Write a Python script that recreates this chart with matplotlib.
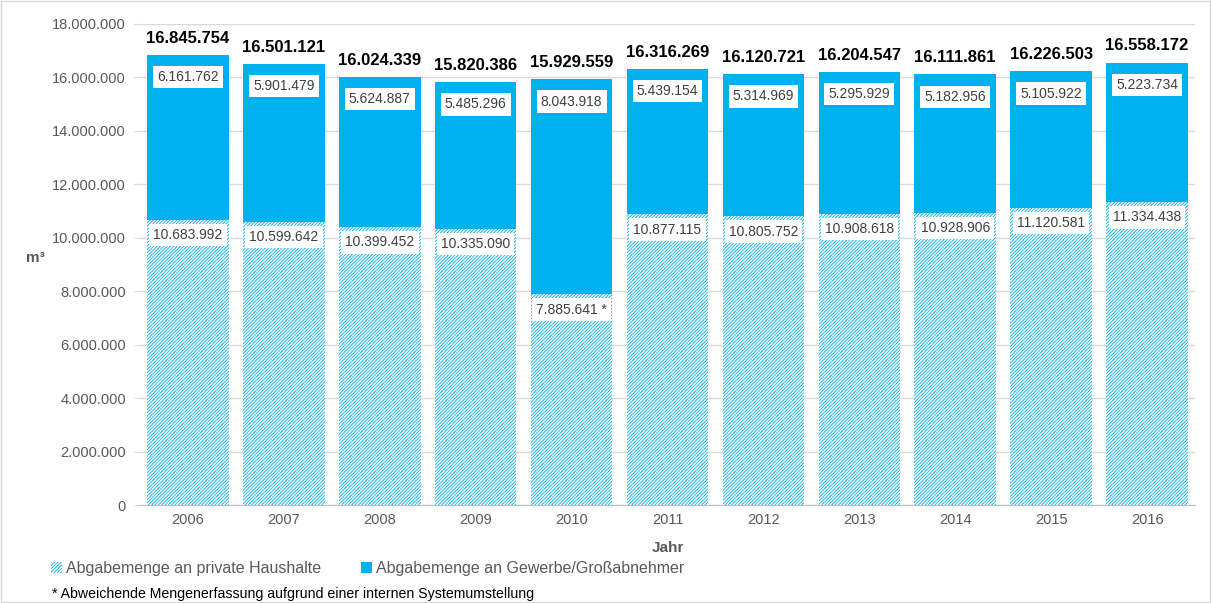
"""
plot.py
Abgabemengen Wasser 2006-2016, gestapelte Säulen
"""

import matplotlib
matplotlib.use('Agg')
import matplotlib.pyplot as plt
from matplotlib.patches import Rectangle

# Data
years = ['2006', '2007', '2008', '2009', '2010', '2011', '2012', '2013', '2014', '2015', '2016']
haushalte = [10683992, 10599642, 10399452, 10335090, 7885641, 10877115,
             10805752, 10908618, 10928906, 11120581, 11334438]
gewerbe = [6161762, 5901479, 5624887, 5485296, 8043918, 5439154,
           5314969, 5295929, 5182956, 5105922, 5223734]
totals = [16845754, 16501121, 16024339, 15820386, 15929559, 16316269,
          16120721, 16204547, 16111861, 16226503, 16558172]
label_haushalte = 'Abgabemenge an private Haushalte'
label_gewerbe = 'Abgabemenge an Gewerbe/Großabnehmer'
footnote = '* Abweichende Mengenerfassung aufgrund einer internen Systemumstellung'

BLUE = '#00B0F0'
GREY = '#595959'

plt.rcParams['font.family'] = ['Liberation Sans', 'DejaVu Sans']
plt.rcParams['hatch.linewidth'] = 0.6


def fmt(v):
    return '{:,}'.format(v).replace(',', '.')


fig = plt.figure(figsize=(12.12, 6.03), dpi=100)
ax = fig.add_axes([0.1155, 0.1625, 0.8705, 0.7977])

x = list(range(len(years)))
ax.bar(x, haushalte, width=0.85, color='white', edgecolor=BLUE, hatch='/' * 10,
       linewidth=0, label=label_haushalte, zorder=2)
ax.bar(x, gewerbe, width=0.85, bottom=haushalte, color=BLUE, linewidth=0,
       label=label_gewerbe, zorder=2)

box = dict(boxstyle='square,pad=0.3', fc='white', ec='none')
for i in x:
    star = ' *' if years[i] == '2010' else ''
    ax.annotate(fmt(haushalte[i]) + star, (i, haushalte[i]), xytext=(0, -11),
                textcoords='offset points', ha='center', va='center',
                fontsize=10, color='#404040', bbox=box, zorder=3)
    ax.annotate(fmt(gewerbe[i]), (i, totals[i]), xytext=(0, -16),
                textcoords='offset points', ha='center', va='center',
                fontsize=10, color='#404040', bbox=box, zorder=3)
    ax.annotate(fmt(totals[i]), (i, totals[i]), xytext=(0, 12),
                textcoords='offset points', ha='center', va='center',
                fontsize=12, fontweight='bold', color='black', zorder=3)

ax.set_xlim(-0.5, 10.5)
ax.set_ylim(0, 18000000)
ax.set_yticks(range(0, 18000001, 2000000))
ax.set_yticklabels([fmt(v) for v in range(0, 18000001, 2000000)])
ax.set_xticks(x)
ax.set_xticklabels(years)
ax.tick_params(axis='both', labelsize=10.5, labelcolor=GREY)
ax.tick_params(axis='y', length=4, color='#D9D9D9', pad=6)
ax.tick_params(axis='x', length=0, pad=6)
ax.grid(axis='y', color='#D9D9D9', linewidth=1, zorder=0)
ax.set_axisbelow(True)
for s in ['top', 'right', 'left']:
    ax.spines[s].set_visible(False)
ax.spines['bottom'].set_color('#BFBFBF')

ax.set_xlabel('Jahr', fontsize=11, fontweight='bold', color=GREY, labelpad=10)
ax.set_ylabel('m³', fontsize=11, fontweight='bold', color=GREY, rotation=0, labelpad=12)

leg = fig.legend(loc='center left', bbox_to_anchor=(0.03, 0.057), ncol=2, frameon=False,
                 fontsize=11.5, handlelength=0.7, handleheight=0.7, handletextpad=0.25,
                 columnspacing=2.5)
for t in leg.get_texts():
    t.set_color(GREY)

fig.text(0.043, 0.015, footnote, fontsize=10.2, color='black', va='center')

fig.patches.append(Rectangle((0.001, 0.001), 0.997, 0.997, transform=fig.transFigure,
                             fill=False, edgecolor='#D9D9D9', linewidth=1))

plt.savefig('out.png', dpi=100)
